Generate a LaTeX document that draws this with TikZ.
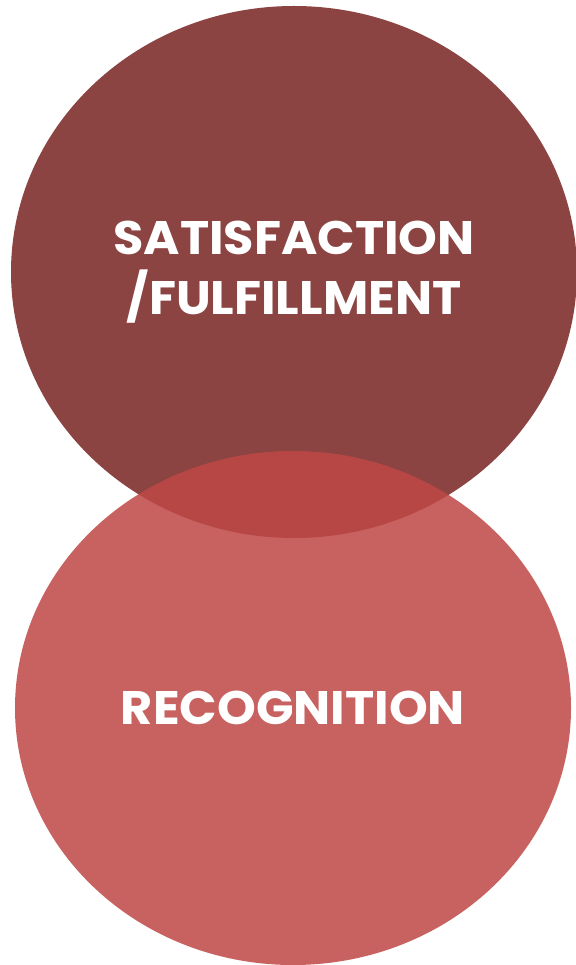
\documentclass[tikz,border=0pt]{standalone}
\usepackage{fontspec}
\setmainfont{Poppins}[FakeStretch=1.05]
\usepackage{tikz}
\usetikzlibrary{shapes}
\definecolor{topred}{RGB}{139,68,66}
\definecolor{lowred}{RGB}{191,72,70}

\begin{document}
\begin{tikzpicture}[x=1pt, y=-1pt, main node/.style={ellipse, inner sep=0pt, outer sep=0pt, text=white, font=\bfseries\fontsize{47}{60}\selectfont, align=center}]
\useasboundingbox (0,0) rectangle (575,965);
\node[main node, fill=topred, minimum width=566pt, minimum height=532pt] (1) at (294,272) {SATISFACTION\\/FULFILLMENT};
\node[main node, fill=lowred, fill opacity=0.86, text opacity=1, minimum width=556pt, minimum height=514pt] (2) at (293,708) {RECOGNITION};
\end{tikzpicture}
\end{document}
